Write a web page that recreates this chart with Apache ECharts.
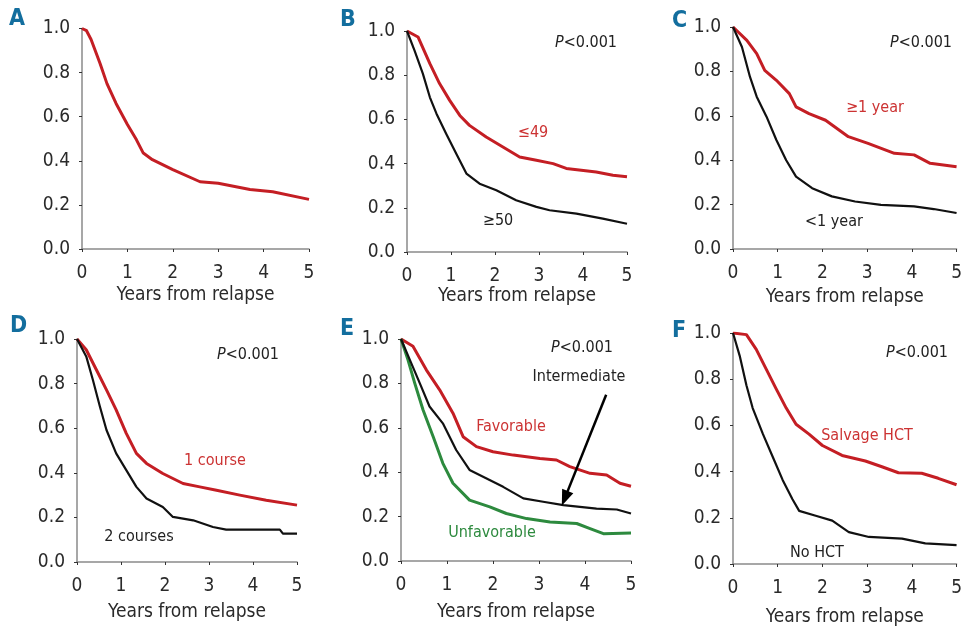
<!DOCTYPE html>
<html>
<head>
<meta charset="utf-8">
<script src="https://cdn.jsdelivr.net/npm/echarts@6/dist/echarts.min.js"></script>
<style>
  html, body { margin: 0; padding: 0; background: #fff; }
  #chart { width: 965px; height: 628px; }
</style>
</head>
<body>
<div id="chart"></div>
<script>
// survival curves: years from relapse / survival probability
const xTicks = [0, 1, 2, 3, 4, 5];
const yTicks = [0, 0.2, 0.4, 0.6, 0.8, 1.0];

// A - all patients
const allT = [0, 0.1, 0.2, 0.4, 0.55, 0.75, 1.0, 1.2, 1.35, 1.55, 2.0, 2.6, 3.0, 3.7, 4.2, 5.0];
const allS = [1.0, 0.99, 0.95, 0.84, 0.75, 0.66, 0.565, 0.495, 0.435, 0.405, 0.36, 0.305, 0.298, 0.27, 0.26, 0.225];

// B - age
const youngT = [0, 0.25, 0.52, 0.74, 0.97, 1.2, 1.42, 1.8, 2.18, 2.56, 2.94, 3.32, 3.62, 4.3, 4.68, 5.0];
const youngS = [1.0, 0.973, 0.852, 0.762, 0.686, 0.618, 0.573, 0.52, 0.475, 0.43, 0.415, 0.40, 0.378, 0.362, 0.347, 0.34];
const oldT = [0, 0.17, 0.36, 0.52, 0.67, 0.89, 1.12, 1.35, 1.65, 2.03, 2.48, 2.94, 3.24, 3.85, 4.45, 5.0];
const oldS = [1.0, 0.912, 0.807, 0.70, 0.626, 0.535, 0.445, 0.355, 0.309, 0.279, 0.234, 0.204, 0.189, 0.174, 0.151, 0.128];

// C - duration of first remission
const longCrT = [0, 0.31, 0.53, 0.71, 0.97, 1.26, 1.41, 1.7, 2.07, 2.58, 3.02, 3.61, 4.05, 4.41, 5.0];
const longCrS = [1.0, 0.94, 0.88, 0.805, 0.76, 0.70, 0.64, 0.61, 0.58, 0.506, 0.476, 0.431, 0.424, 0.386, 0.371];
const shortCrT = [0, 0.2, 0.38, 0.53, 0.75, 0.97, 1.19, 1.41, 1.77, 2.21, 2.73, 3.31, 4.05, 4.49, 5.0];
const shortCrS = [1.0, 0.91, 0.775, 0.686, 0.596, 0.491, 0.40, 0.326, 0.274, 0.237, 0.214, 0.199, 0.192, 0.18, 0.162];

// D - induction courses
const oneCourseT = [0, 0.21, 0.44, 0.67, 0.89, 1.12, 1.35, 1.58, 1.95, 2.41, 2.79, 3.17, 3.7, 4.3, 5.0];
const oneCourseS = [1.0, 0.952, 0.862, 0.772, 0.682, 0.577, 0.487, 0.442, 0.397, 0.352, 0.337, 0.322, 0.30, 0.277, 0.255];
const twoCourseT = [0, 0.21, 0.36, 0.52, 0.67, 0.89, 1.12, 1.35, 1.58, 1.95, 2.18, 2.64, 3.09, 3.39, 4.61, 4.68, 5.0];
const twoCourseS = [1.0, 0.922, 0.817, 0.697, 0.592, 0.487, 0.412, 0.337, 0.285, 0.247, 0.202, 0.187, 0.157, 0.145, 0.145, 0.127, 0.127];

// E - cytogenetics
const favT = [0, 0.26, 0.55, 0.84, 1.13, 1.35, 1.64, 2.0, 2.44, 3.02, 3.38, 3.67, 4.11, 4.47, 4.76, 5.0];
const favS = [1.0, 0.967, 0.861, 0.771, 0.666, 0.56, 0.515, 0.492, 0.477, 0.462, 0.455, 0.425, 0.395, 0.387, 0.35, 0.337];
const intT = [0, 0.19, 0.41, 0.62, 0.91, 1.2, 1.49, 1.86, 2.22, 2.66, 3.09, 3.53, 4.25, 4.69, 5.0];
const intS = [1.0, 0.907, 0.80, 0.696, 0.62, 0.50, 0.41, 0.372, 0.334, 0.282, 0.267, 0.252, 0.236, 0.232, 0.214];
const unfT = [0, 0.15, 0.30, 0.48, 0.70, 0.91, 1.13, 1.49, 1.93, 2.29, 2.73, 3.24, 3.82, 4.11, 4.40, 5.0];
const unfS = [1.0, 0.907, 0.80, 0.68, 0.56, 0.44, 0.35, 0.274, 0.244, 0.214, 0.191, 0.176, 0.169, 0.146, 0.123, 0.126];

// F - salvage transplant
const hctT = [0, 0.30, 0.52, 0.74, 0.96, 1.19, 1.41, 1.70, 2.0, 2.44, 2.96, 3.33, 3.70, 4.22, 4.59, 5.0];
const hctS = [1.0, 0.993, 0.929, 0.845, 0.76, 0.675, 0.605, 0.562, 0.513, 0.47, 0.446, 0.421, 0.395, 0.393, 0.371, 0.343];
const noHctT = [0, 0.15, 0.30, 0.44, 0.67, 0.89, 1.11, 1.33, 1.48, 1.85, 2.22, 2.59, 3.04, 3.78, 4.3, 5.0];
const noHctS = [1.0, 0.901, 0.774, 0.675, 0.562, 0.463, 0.364, 0.28, 0.23, 0.209, 0.188, 0.138, 0.117, 0.11, 0.089, 0.082];

// arrow in E: from label toward the intermediate curve
const arrowFrom = [4.46, 0.749];
const arrowTo = [3.56, 0.282];

const RED = '#c41e24';
const BLACK = '#111';
const GREEN = '#2d8a3e';
const FONT = "'Liberation Sans Narrow', 'DejaVu Sans Condensed', 'Roboto', sans-serif";

const grids = [
    {left: 82, top: 28.5, width: 227, height: 220.5},
    {left: 407, top: 31, width: 220, height: 221},
    {left: 733, top: 27, width: 227, height: 222},
    {left: 77, top: 339, width: 220, height: 223},
    {left: 401, top: 339, width: 230, height: 222},
    {left: 733, top: 333, width: 225, height: 236}
];
const nameGaps = [37, 34, 39, 41, 42, 44];

const pair = (t, s) => t.map((v, i) => [v, s[i]]);

function curve(gi, t, s, color, w) {
    return {
        type: 'line',
        xAxisIndex: gi,
        yAxisIndex: gi,
        data: pair(t, s),
        symbol: 'none',
        silent: true,
        lineStyle: {color: color, width: w, join: 'round'},
        z: color === RED ? 2 : 3
    };
}

const chart = echarts.init(document.getElementById('chart'), null, {renderer: 'canvas'});

const option = {
    backgroundColor: '#fff',
    animation: false,
    grid: grids,
    xAxis: grids.map((g, i) => ({
        gridIndex: i,
        type: 'value',
        min: xTicks[0],
        max: xTicks[xTicks.length - 1],
        interval: 1,
        name: 'Years from relapse',
        nameLocation: 'middle',
        nameGap: nameGaps[i],
        nameTextStyle: {fontFamily: FONT, fontSize: 19, color: '#2a2a2a'},
        axisLine: {lineStyle: {color: '#8a8a8a', width: 1.5}},
        axisTick: {show: true, length: 3, lineStyle: {color: '#333'}},
        axisLabel: {fontFamily: FONT, fontSize: 19, color: '#2a2a2a', margin: 15},
        splitLine: {show: false}
    })),
    yAxis: grids.map((g, i) => ({
        gridIndex: i,
        type: 'value',
        min: yTicks[0],
        max: yTicks[yTicks.length - 1],
        interval: 0.2,
        axisLine: {show: true, lineStyle: {color: '#8a8a8a', width: 1.5}},
        axisTick: {show: true, length: 3, lineStyle: {color: '#333'}},
        axisLabel: {
            fontFamily: FONT, fontSize: 19, color: '#2a2a2a', margin: 12,
            formatter: v => v.toFixed(1)
        },
        splitLine: {show: false}
    })),
    series: [
        curve(0, allT, allS, RED, 3),
        curve(1, youngT, youngS, RED, 3),
        curve(1, oldT, oldS, BLACK, 2.2),
        curve(2, longCrT, longCrS, RED, 3),
        curve(2, shortCrT, shortCrS, BLACK, 2.2),
        curve(3, oneCourseT, oneCourseS, RED, 3),
        curve(3, twoCourseT, twoCourseS, BLACK, 2.2),
        curve(4, favT, favS, RED, 3),
        curve(4, unfT, unfS, GREEN, 3),
        Object.assign(curve(4, intT, intS, BLACK, 2.2), {
            markLine: {
                silent: true,
                symbol: ['none', 'triangle'],
                symbolSize: [12, 16],
                label: {show: false},
                lineStyle: {color: '#000', width: 2.5, type: 'solid'},
                data: [[{coord: arrowFrom}, {coord: arrowTo}]]
            }
        }),
        curve(5, hctT, hctS, RED, 3),
        curve(5, noHctT, noHctS, BLACK, 2.2)
    ]
};

// panel letters and in-plot annotations
const panelLetters = [['A', 9, 8], ['B', 340, 9], ['C', 672, 10], ['D', 10, 315], ['E', 340, 318], ['F', 672, 320]];
const notes = [
    // [text, x, y, color, italicP]
    ['<0.001', 586, 43, '#222', true],
    ['<0.001', 921, 43, '#222', true],
    ['<0.001', 248, 355, '#222', true],
    ['<0.001', 582, 348, '#222', true],
    ['<0.001', 917, 353, '#222', true],
    ['≤49', 533, 133, '#cc3333', false],
    ['≥50', 498, 221, '#222', false],
    ['≥1 year', 875, 108, '#cc3333', false],
    ['<1 year', 834, 222, '#222', false],
    ['1 course', 215, 461, '#cc3333', false],
    ['2 courses', 139, 537, '#222', false],
    ['Favorable', 511, 427, '#cc3333', false],
    ['Intermediate', 579, 377, '#222', false],
    ['Unfavorable', 492, 533, GREEN, false],
    ['Salvage HCT', 867, 436, '#cc3333', false],
    ['No HCT', 817, 553, '#222', false]
];

option.graphic = panelLetters.map(p => ({
    type: 'text',
    left: p[1],
    top: p[2],
    style: {text: p[0], fill: '#136e9e', font: "bold 23px " + FONT}
})).concat(notes.map(n => ({
    type: 'text',
    x: n[1],
    y: n[2],
    style: n[4] ? {
        text: '{i|P}{n|' + n[0] + '}',
        align: 'center',
        verticalAlign: 'middle',
        rich: {
            i: {fontStyle: 'italic', fontFamily: FONT, fontSize: 16, fill: n[3]},
            n: {fontFamily: FONT, fontSize: 16, fill: n[3]}
        }
    } : {
        text: n[0],
        align: 'center',
        verticalAlign: 'middle',
        fill: n[3],
        font: '16px ' + FONT
    }
})));

chart.setOption(option);
</script>
</body>
</html>
